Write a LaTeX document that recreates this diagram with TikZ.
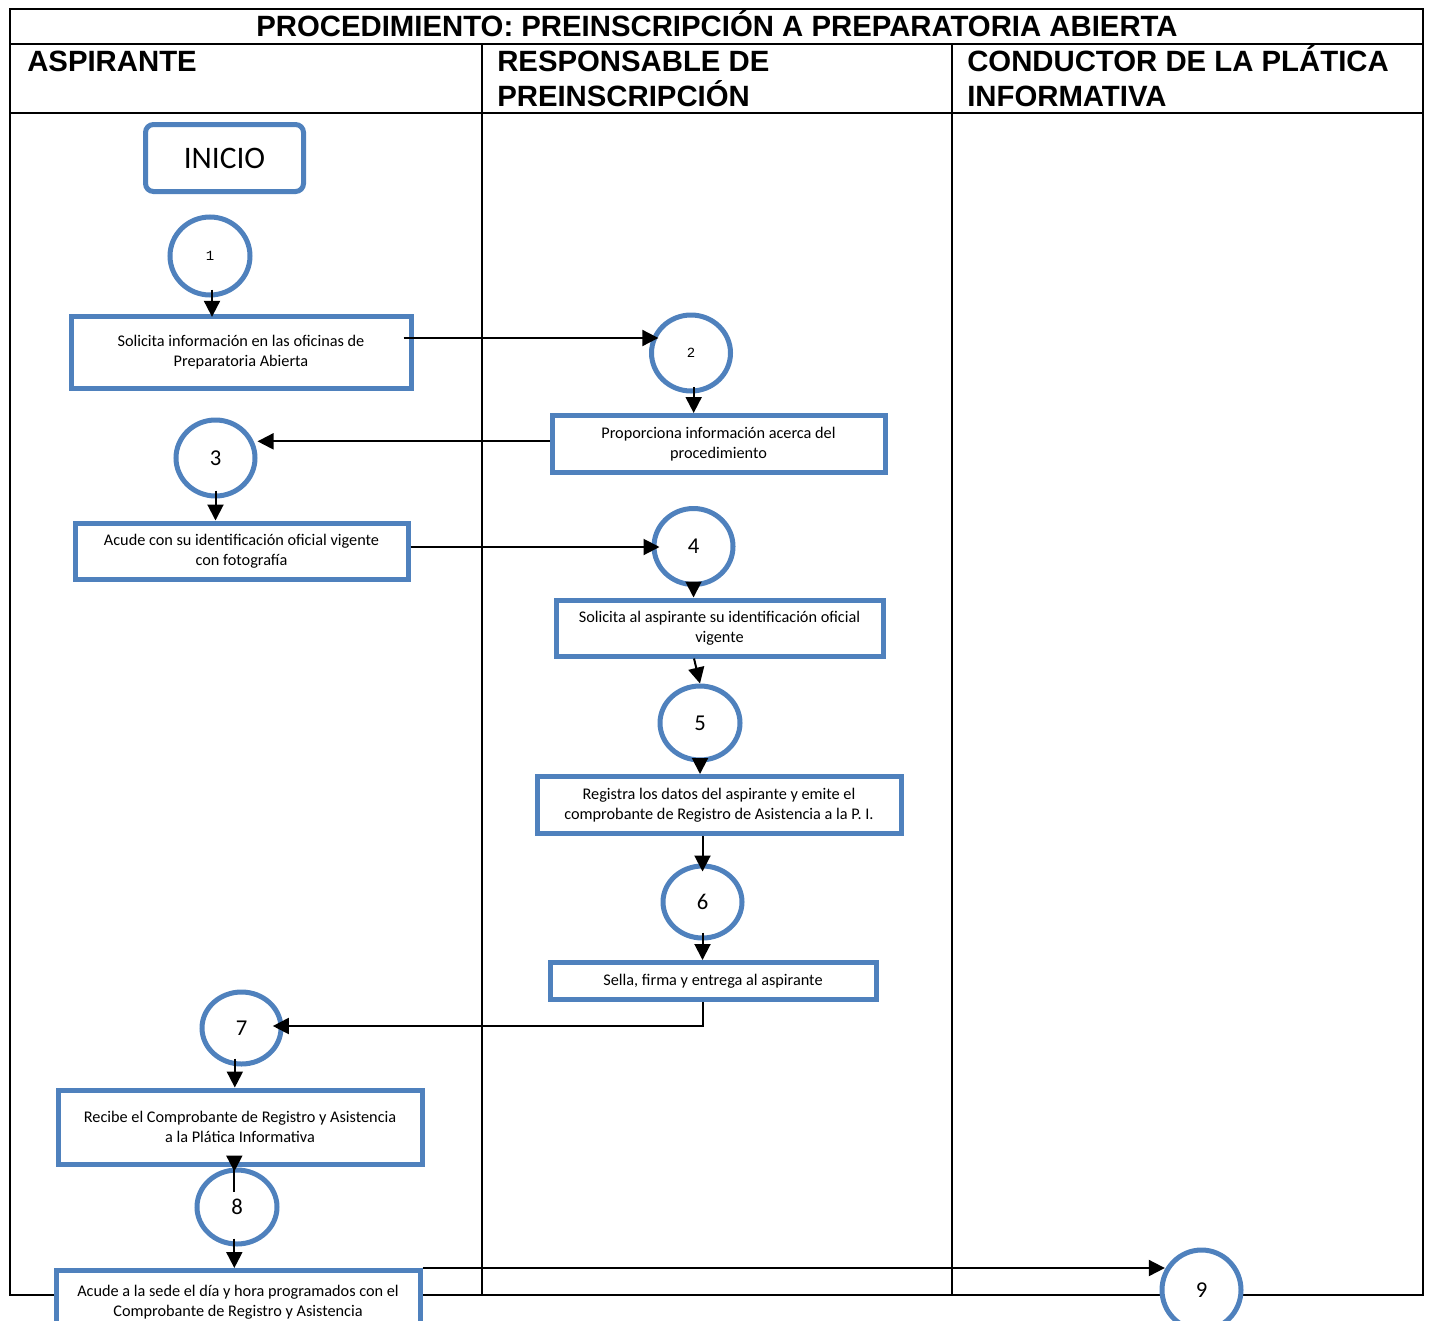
\documentclass[tikz,border=0pt]{standalone}
\usepackage{fontspec}
\setmainfont{Carlito}
\newfontfamily\hdrfont{Liberation Sans}
\newfontfamily\monofont{Liberation Mono}
\usetikzlibrary{arrows.meta,shapes.geometric}
\definecolor{boxblue}{RGB}{79,129,189}
\begin{document}
\begin{tikzpicture}[x=0.75pt,y=-0.75pt,
  tbl/.style={line width=1.6pt,draw=black},
  hdr/.style={font=\hdrfont\bfseries\fontsize{22}{25}\selectfont,inner sep=0pt},
  stepbox/.style={draw=boxblue,line width=3.75pt,fill=white,align=center,
     font=\fontsize{12.2}{15}\selectfont,inner sep=2pt},
  startbox/.style={draw=boxblue,line width=3.75pt,fill=white,rounded corners=6pt,
     font=\fontsize{23.5}{26}\selectfont},
  num/.style={ellipse,draw=boxblue,line width=3.75pt,fill=white,inner sep=0pt,
     font=\fontsize{17}{19}\selectfont},
  smallnum/.style={num,font=\monofont\fontsize{10.5}{12}\selectfont},
  arr/.style={draw=black,line width=1.5pt,-{Triangle[width=12pt,length=12pt]}}]
\useasboundingbox (0,0) rectangle (1430,1320);
\clip (0,0) rectangle (1430,1320);
% table
\draw[tbl] (10,9) rectangle (1423,1295);
\draw[tbl] (10,44) -- (1423,44);
\draw[tbl] (10,113) -- (1423,113);
\draw[tbl] (482,44) -- (482,1295);
\draw[tbl] (952,44) -- (952,1295);
\node[hdr,anchor=base] (title) at (717,37) {PROCEDIMIENTO: PREINSCRIPCIÓN A PREPARATORIA ABIERTA};
\node[hdr,anchor=base west] (h1) at (27,72) {ASPIRANTE};
\node[hdr,anchor=base west] (h2a) at (497,72) {RESPONSABLE DE};
\node[hdr,anchor=base west] (h2b) at (497,106) {PREINSCRIPCIÓN};
\node[hdr,anchor=base west] (h3a) at (967,72) {CONDUCTOR DE LA PLÁTICA};
\node[hdr,anchor=base west] (h3b) at (967,106) {INFORMATIVA};
% nodes
\node[startbox,minimum width=158*0.75pt,minimum height=67*0.75pt] (inicio) at (224.5,158) {INICIO};
\node[smallnum,minimum width=80*0.75pt,minimum height=78*0.75pt] (c1) at (210,256) {1};
\node[stepbox,minimum width=340*0.75pt,minimum height=72*0.75pt] (r1) at (241,352) {Solicita información en las oficinas de\\Preparatoria Abierta};
\node[smallnum,minimum width=79*0.75pt,minimum height=76*0.75pt] (c2) at (691,353) {2};
\node[stepbox,minimum width=333*0.75pt,minimum height=57*0.75pt] (r2) at (718.5,444) {Proporciona información acerca del\\procedimiento};
\node[num,minimum width=79*0.75pt,minimum height=76*0.75pt] (c3) at (215.5,458) {3};
\node[stepbox,minimum width=333*0.75pt,minimum height=56*0.75pt] (r3) at (241.5,551) {Acude con su identificación oficial vigente\\con fotografía};
\node[num,minimum width=79*0.75pt,minimum height=76*0.75pt] (c4) at (693.5,546.5) {4};
\node[stepbox,minimum width=327*0.75pt,minimum height=56*0.75pt] (r4) at (719.5,628) {Solicita al aspirante su identificación oficial\\vigente};
\node[num,minimum width=80*0.75pt,minimum height=74*0.75pt] (c5) at (700,723) {5};
\node[stepbox,minimum width=364*0.75pt,minimum height=57*0.75pt] (r5) at (719,805) {Registra los datos del aspirante y emite el\\comprobante de Registro de Asistencia a la P. I.};
\node[num,minimum width=79*0.75pt,minimum height=72*0.75pt] (c6) at (702.5,902) {6};
\node[stepbox,minimum width=326*0.75pt,minimum height=37*0.75pt] (r6) at (713,981) {Sella, firma y entrega al aspirante};
\node[num,minimum width=79*0.75pt,minimum height=72*0.75pt] (c7) at (241.5,1028) {7};
\node[stepbox,minimum width=364*0.75pt,minimum height=74*0.75pt] (r7) at (240,1127) {Recibe el Comprobante de Registro y Asistencia\\a la Plática Informativa};
\node[num,minimum width=80*0.75pt,minimum height=74*0.75pt] (c8) at (237,1207) {8};
\node[stepbox,minimum width=364*0.75pt,minimum height=64*0.75pt,anchor=north] (r8) at (238,1268) {Acude a la sede el día y hora programados con el\\Comprobante de Registro y Asistencia};
\node[num,minimum width=79*0.75pt,minimum height=80*0.75pt] (c9) at (1201.5,1290) {9};
% connectors
\draw[arr,shorten <=-6pt,shorten >=-2.5pt] ([xshift=1.5pt]c1.south) -- ([xshift=1.5pt]c1.south |- r1.north);
\coordinate (a2) at ([xshift=-7.5pt,yshift=10.5pt]r1.east);
\draw[arr,shorten >=-7pt] (a2) -- (a2 -| c2.west);
\draw[arr,shorten <=-5pt] ([xshift=2pt]c2.south) -- ([xshift=2pt]c2.south |- r2.north);
\draw[arr] ([yshift=2pt]r2.west) -- ([yshift=2pt]r2.west -| c3.east);
\draw[arr,shorten <=-6pt] (c3.south) -- (c3.south |- r3.north);
\draw[arr,shorten >=-6pt] ([yshift=3pt]r3.east) -- ([yshift=3pt]r3.east -| c4.west);
\draw[arr,shorten <=-6pt] (c4.south) -- (c4.south |- r4.north);
\draw[arr] ([xshift=-4.5pt]c5.north |- r4.south) -- (c5.north);
\draw[arr,shorten <=-6pt] (c5.south) -- (c5.south |- r5.north);
\draw[arr,shorten >=-6pt] (c6.north |- r5.south) -- (c6.north);
\draw[arr,shorten <=-6pt] (c6.south) -- (c6.south |- r6.north);
\draw[arr,shorten >=-8pt] (c6.south |- r6.south) |- ([yshift=1.5pt]c7.east);
\draw[arr,shorten <=-6pt] ([xshift=-5pt]c7.south) -- ([xshift=-5pt]c7.south |- r7.north);
\draw[arr,shorten <=-19pt,shorten >=-3pt] ([xshift=-2pt]c8.north |- r7.south) -- ([xshift=-2pt]c8.north);
\draw[arr,shorten <=-6pt] ([xshift=-2pt]c8.south) -- ([xshift=-2pt]c8.south |- r8.north);
\draw[arr,shorten >=-4pt] (r8.north east) -- (r8.north east -| c9.west);
\end{tikzpicture}
\end{document}
